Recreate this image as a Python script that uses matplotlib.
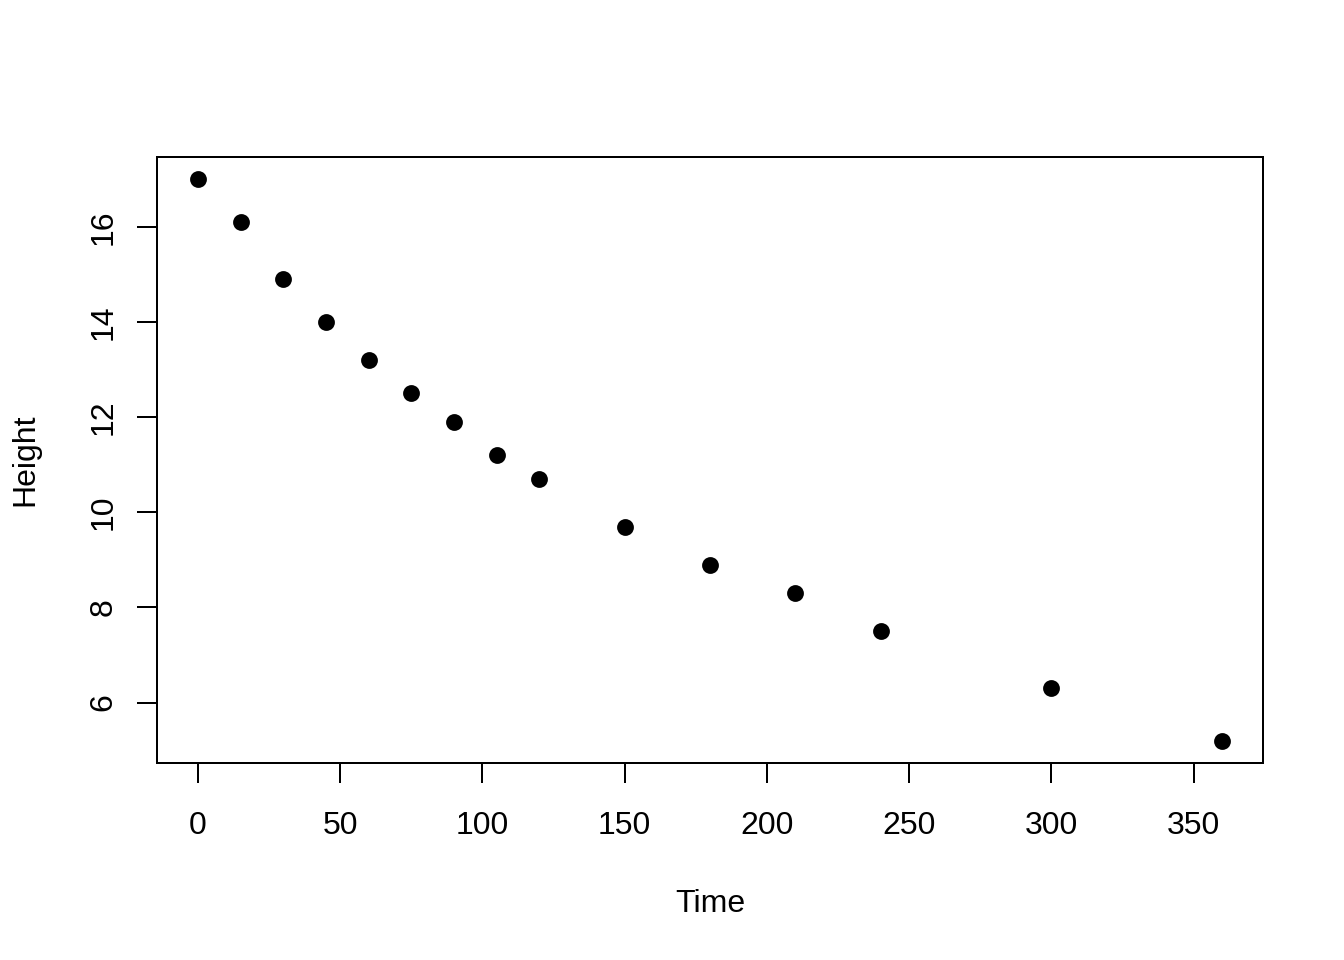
import matplotlib.pyplot as plt

# data
time = [0, 15, 30, 45, 60, 75, 90, 105, 120, 150, 180, 210, 240, 300, 360]
height = [17.0, 16.1, 14.9, 14.0, 13.2, 12.5, 11.9, 11.2, 10.7, 9.7, 8.9, 8.3, 7.5, 6.3, 5.2]
xticks = [0, 50, 100, 150, 200, 250, 300, 350]
yticks = [6, 8, 10, 12, 14, 16]

plt.rcParams['font.family'] = ['Liberation Sans', 'DejaVu Sans']
plt.rcParams['font.size'] = 12

fig = plt.figure(figsize=(7, 5), dpi=192)
ax = fig.add_axes([157/1344, 1 - 763/960, (1263 - 157)/1344, (763 - 157)/960])

ax.plot(time, height, 'o', color='black', ms=5.3)

# R style 4% padding
xr = max(time) - min(time)
yr = max(height) - min(height)
ax.set_xlim(min(time) - 0.04*xr, max(time) + 0.04*xr)
ax.set_ylim(min(height) - 0.04*yr, max(height) + 0.04*yr)

ax.set_xticks(xticks)
ax.set_yticks(yticks)
ax.set_yticklabels([str(v) for v in yticks], rotation=90, va='center')
ax.tick_params(length=7.5, width=0.75, direction='out')
ax.tick_params(axis='x', pad=10.5)
ax.tick_params(axis='y', pad=7)
for s in ax.spines.values():
    s.set_linewidth(0.75)

ax.set_xlabel('Time', labelpad=18)
ax.set_ylabel('Height', labelpad=18)

fig.savefig('out.png', dpi=192)
